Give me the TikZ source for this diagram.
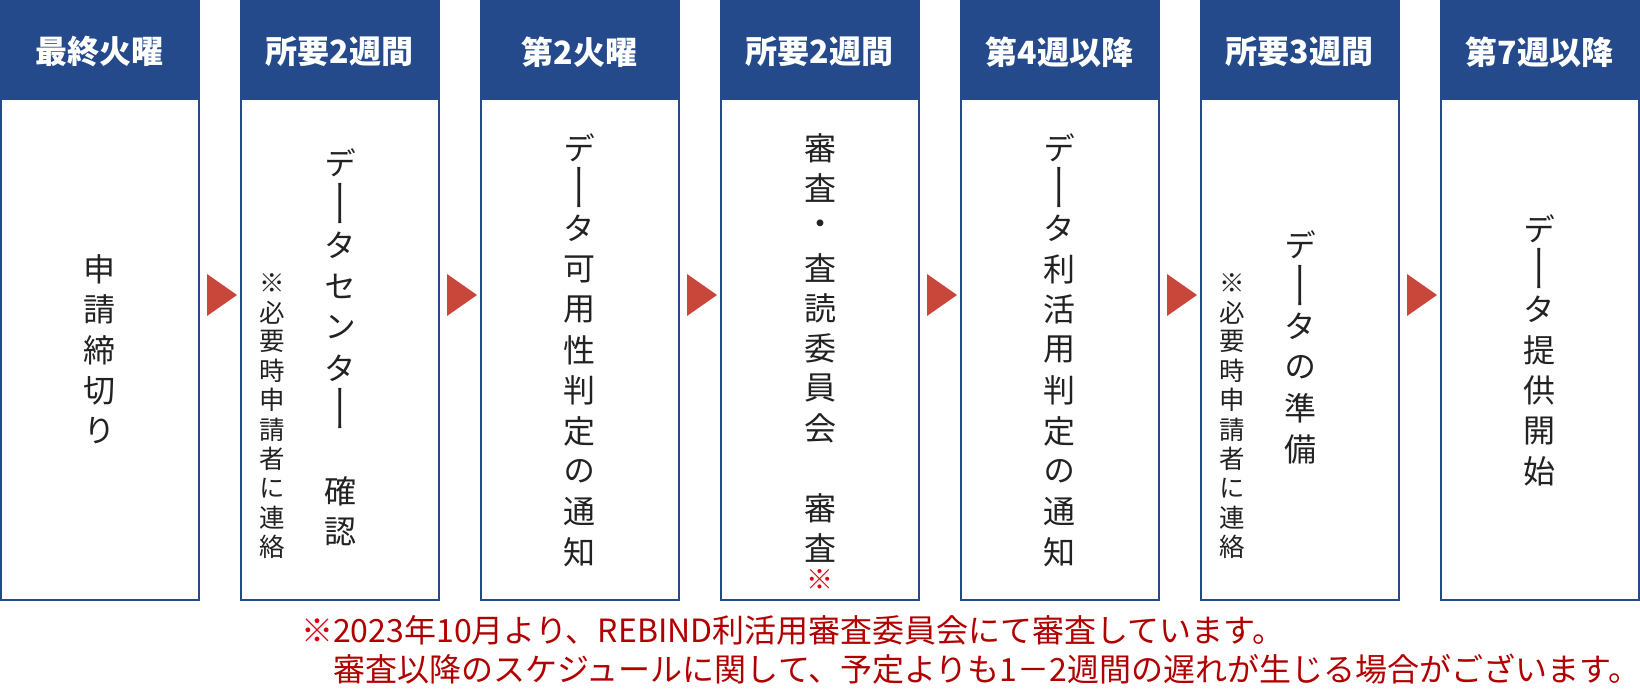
\documentclass[tikz,border=0pt]{standalone}
\usepackage{fontspec}
\usetikzlibrary{calc}
\newfontfamily\jp{Noto Sans CJK JP}
\newfontfamily\jpv{Noto Sans CJK JP}[RawFeature=+vert]
\definecolor{hblue}{HTML}{244A8C}
\definecolor{trired}{HTML}{C9463B}
\definecolor{notered}{HTML}{B00000}
\definecolor{markred}{HTML}{E00012}
\definecolor{ink}{HTML}{222222}
\newcommand\vbar{\scalebox{1}[1.6]{ー}}
\newcommand\vcol[6]{%
  \foreach \c [count=\k] in {#6} {\node[#1] (#2-\k) at (#3, #4+#5*\k-#5) {\c};}}
\begin{document}
\begin{tikzpicture}[x=1pt,y=-1pt,
  box/.style={draw=hblue,line width=2pt,minimum width=197.5pt,minimum height=599pt,inner sep=0pt},
  head/.style={fill=hblue,minimum width=199pt,minimum height=100pt,inner sep=0pt},
  htext/.style={inner sep=0pt,text=white,font=\jp\bfseries\fontsize{32}{36}\selectfont},
  ch/.style={inner sep=0pt,font=\jpv\fontsize{32}{36}\selectfont,text=ink},
  sm/.style={inner sep=0pt,font=\jpv\fontsize{25.5}{30}\selectfont,text=ink},
  redmark/.style={inner sep=0pt,font=\jpv\fontsize{27}{30}\selectfont,text=markred},
  arr/.style={fill=trired},
  foot/.style={inner sep=0pt,anchor=west,font=\jp\fontsize{32}{36}\selectfont,text=notered}]
\useasboundingbox (0,0) rectangle (1640,700);
\foreach \i/\h in {0/最終火曜,1/所要2週間,2/第2火曜,3/所要2週間,4/第4週以降,5/所要3週間,6/第7週以降} {
  \node[box] (b\i) at (240*\i+99.75,300.5) {};
  \node[head] (h\i) at (240*\i+99.5,50) {};
  \node[htext] (t\i) at (240*\i+99.5,52) {\h};
}
\foreach \i in {0,...,5} {
  \fill[arr] ($(b\i.east)+(7.5,-26.5)$) -- ($(b\i.east)+(37.5,-5.5)$) -- ($(b\i.east)+(7.5,15.5)$) -- cycle;
}
% box 0
\vcol{ch}{c0}{99.5}{269}{40.5}{申,請,締,切,り}
% box 1
\vcol{ch}{c1a}{340}{163}{41}{デ,\vbar,タ,セ,ン,タ,\vbar}
\vcol{ch}{c1b}{340}{491}{41}{確,認}
\vcol{sm}{s1}{272}{283}{29.3}{※,必,要,時,申,請,者,に,連,絡}
% box 2
\vcol{ch}{c2}{579.5}{147.5}{40.5}{デ,\vbar,タ,可,用,性,判,定,の,通,知}
% box 3
\vcol{ch}{c3a}{820}{148}{40}{審,査,・,査,読,委,員,会}
\vcol{ch}{c3b}{820}{508}{40}{審,査}
\node[redmark] (m3) at (820,580) {※};
% box 4
\vcol{ch}{c4}{1059.5}{147.5}{40.5}{デ,\vbar,タ,利,活,用,判,定,の,通,知}
% box 5
\vcol{ch}{c5}{1300}{245}{40.8}{デ,\vbar,タ,の,準,備}
\vcol{sm}{s5}{1232}{283}{29.3}{※,必,要,時,申,請,者,に,連,絡}
% box 6
\vcol{ch}{c6}{1539.5}{228.5}{40.5}{デ,\vbar,タ,提,供,開,始}
% footnote
\node[foot] (n1) at (301,630) {\textcolor{markred}{※}2023年10月より、REBIND利活用審査委員会にて審査しています。};
\node[foot] (n2) at (333,669) {審査以降のスケジュールに関して、予定よりも1－2週間の遅れが生じる場合がございます。};
\end{tikzpicture}
\end{document}
